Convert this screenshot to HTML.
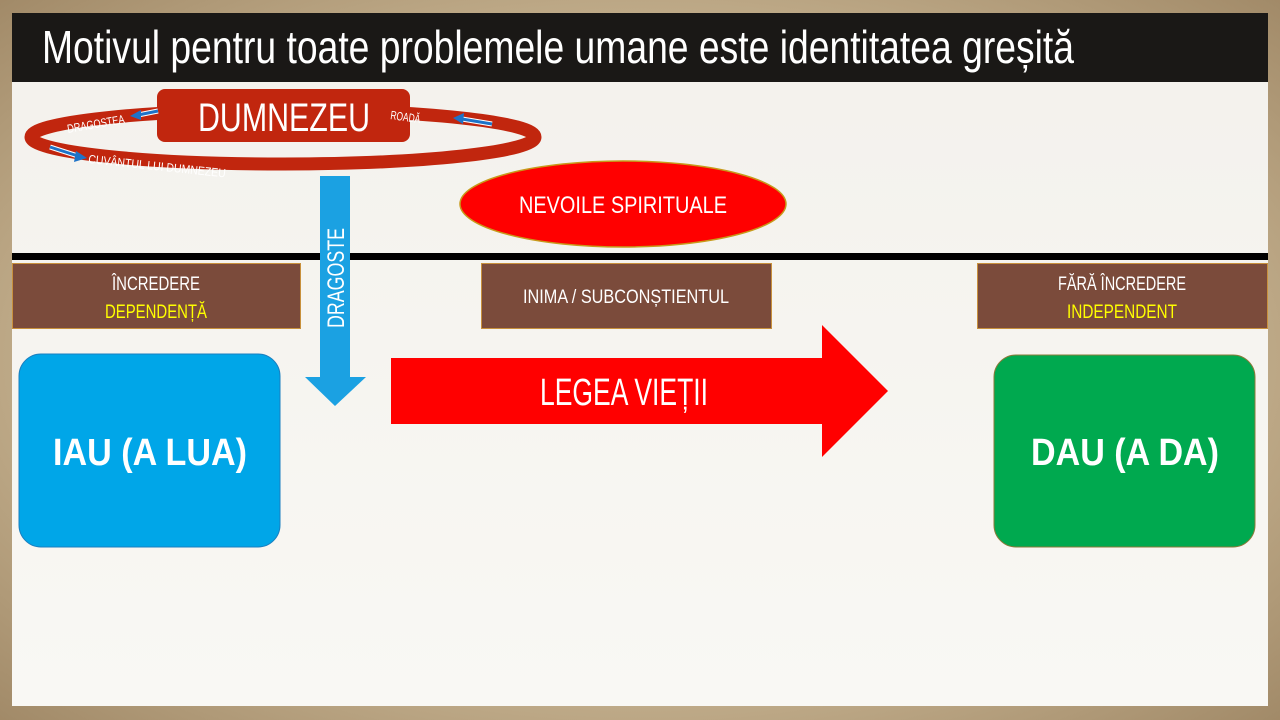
<!DOCTYPE html>
<html><head><meta charset="utf-8"><style>
html,body{margin:0;padding:0;width:1280px;height:720px;overflow:hidden;background:#b09a78;}
svg{display:block;font-family:"Liberation Sans",sans-serif;}
</style></head><body>
<svg width="1280" height="720" viewBox="0 0 1280 720" xmlns="http://www.w3.org/2000/svg">
<defs>
<linearGradient id="bg" x1="0" y1="0" x2="0" y2="1">
<stop offset="0" stop-color="#f3f1ec"/><stop offset="1" stop-color="#f9f8f4"/>
</linearGradient>
<radialGradient id="fr" cx="0.5" cy="0.5" r="0.75">
<stop offset="0.6" stop-color="#c2ae8c"/><stop offset="1" stop-color="#9c8462"/>
</radialGradient>
</defs>
<rect width="1280" height="720" fill="url(#fr)"/>
<rect x="12" y="13" width="1256" height="693" fill="url(#bg)"/>
<rect x="12" y="13" width="1256" height="69" fill="#1a1816"/>
<text x="42" y="63" font-size="46" fill="#fff" textLength="1032" lengthAdjust="spacingAndGlyphs">Motivul pentru toate problemele umane este identitatea greșită</text>

<!-- ring -->
<ellipse cx="283" cy="137" rx="252" ry="27" fill="none" stroke="#c1260e" stroke-width="13"/>
<rect x="157" y="89" width="253" height="53" rx="8" fill="#c1260e"/>
<text x="284" y="131" font-size="40" fill="#fff" text-anchor="middle" textLength="172" lengthAdjust="spacingAndGlyphs">DUMNEZEU</text>
<text x="68" y="133" font-size="12" fill="#fff" transform="rotate(-10 68 133)" textLength="58" lengthAdjust="spacingAndGlyphs">DRAGOSTEA</text>
<text x="390" y="119" font-size="12" fill="#fff" transform="rotate(8 390 119)" textLength="30" lengthAdjust="spacingAndGlyphs">ROADĂ</text>
<text x="88" y="163" font-size="12" fill="#fff" transform="rotate(6 88 163)" textLength="138" lengthAdjust="spacingAndGlyphs">CUVÂNTUL LUI DUMNEZEU</text>
<g stroke="#fff" stroke-width="5" fill="none"><line x1="158" y1="111" x2="138" y2="115"/><line x1="492" y1="124" x2="462" y2="119"/><line x1="50" y1="147" x2="78" y2="156"/></g>
<g stroke="#1e73c8" stroke-width="3" fill="#1e73c8"><line x1="158" y1="111" x2="138" y2="115"/><line x1="492" y1="124" x2="462" y2="119"/><line x1="50" y1="147" x2="78" y2="156"/></g>
<polygon points="130,116 141,110 141,120" fill="#1e73c8"/>
<polygon points="453,118 464,113 463,124" fill="#1e73c8"/>
<polygon points="87,158 76,151 74,162" fill="#1e73c8"/>

<!-- nevoile -->
<ellipse cx="623" cy="204" rx="163" ry="43" fill="#ff0000" stroke="#c79a1a" stroke-width="1.5"/>
<text x="623" y="213" font-size="24" fill="#fff" text-anchor="middle" textLength="208" lengthAdjust="spacingAndGlyphs">NEVOILE SPIRITUALE</text>

<rect x="12" y="253" width="1256" height="7" fill="#000"/>

<!-- blue down arrow -->
<polygon points="320,176 350,176 350,377 366,377 335,406 305,377 320,377" fill="#1ba1e2"/>
<text transform="translate(344 328) rotate(-90)" font-size="24" fill="#fff" textLength="100" lengthAdjust="spacingAndGlyphs">DRAGOSTE</text>

<!-- brown boxes -->
<g fill="#7b4b3b" stroke="#c8903c" stroke-width="1">
<rect x="12.5" y="263.5" width="288" height="65"/>
<rect x="481.5" y="263.5" width="290" height="65"/>
<rect x="977.5" y="263.5" width="290" height="65"/>
</g>
<text x="156" y="290" font-size="19" fill="#fff" text-anchor="middle" textLength="88" lengthAdjust="spacingAndGlyphs">ÎNCREDERE</text>
<text x="156" y="318" font-size="19" fill="#ffff00" text-anchor="middle" textLength="102" lengthAdjust="spacingAndGlyphs">DEPENDENȚĂ</text>
<text x="626" y="303" font-size="19" fill="#fff" text-anchor="middle" textLength="206" lengthAdjust="spacingAndGlyphs">INIMA / SUBCONȘTIENTUL</text>
<text x="1122" y="290" font-size="19" fill="#fff" text-anchor="middle" textLength="128" lengthAdjust="spacingAndGlyphs">FĂRĂ ÎNCREDERE</text>
<text x="1122" y="318" font-size="19" fill="#ffff00" text-anchor="middle" textLength="110" lengthAdjust="spacingAndGlyphs">INDEPENDENT</text>

<!-- boxes -->
<rect x="19" y="354" width="261" height="193" rx="22" fill="#00a6e8" stroke="#1a7fc0" stroke-width="1"/>
<text x="150" y="465" font-size="38" font-weight="bold" fill="#fff" text-anchor="middle" textLength="194" lengthAdjust="spacingAndGlyphs">IAU (A LUA)</text>
<rect x="994" y="355" width="261" height="192" rx="22" fill="#00a94f" stroke="#8a7a3a" stroke-width="1"/>
<text x="1125" y="465" font-size="38" font-weight="bold" fill="#fff" text-anchor="middle" textLength="188" lengthAdjust="spacingAndGlyphs">DAU (A DA)</text>

<!-- red arrow -->
<polygon points="391,358 822,358 822,325 888,391 822,457 822,424 391,424" fill="#ff0000"/>
<text x="624" y="405" font-size="38" fill="#fff" text-anchor="middle" textLength="168" lengthAdjust="spacingAndGlyphs">LEGEA VIEȚII</text>
</svg>
</body></html>
